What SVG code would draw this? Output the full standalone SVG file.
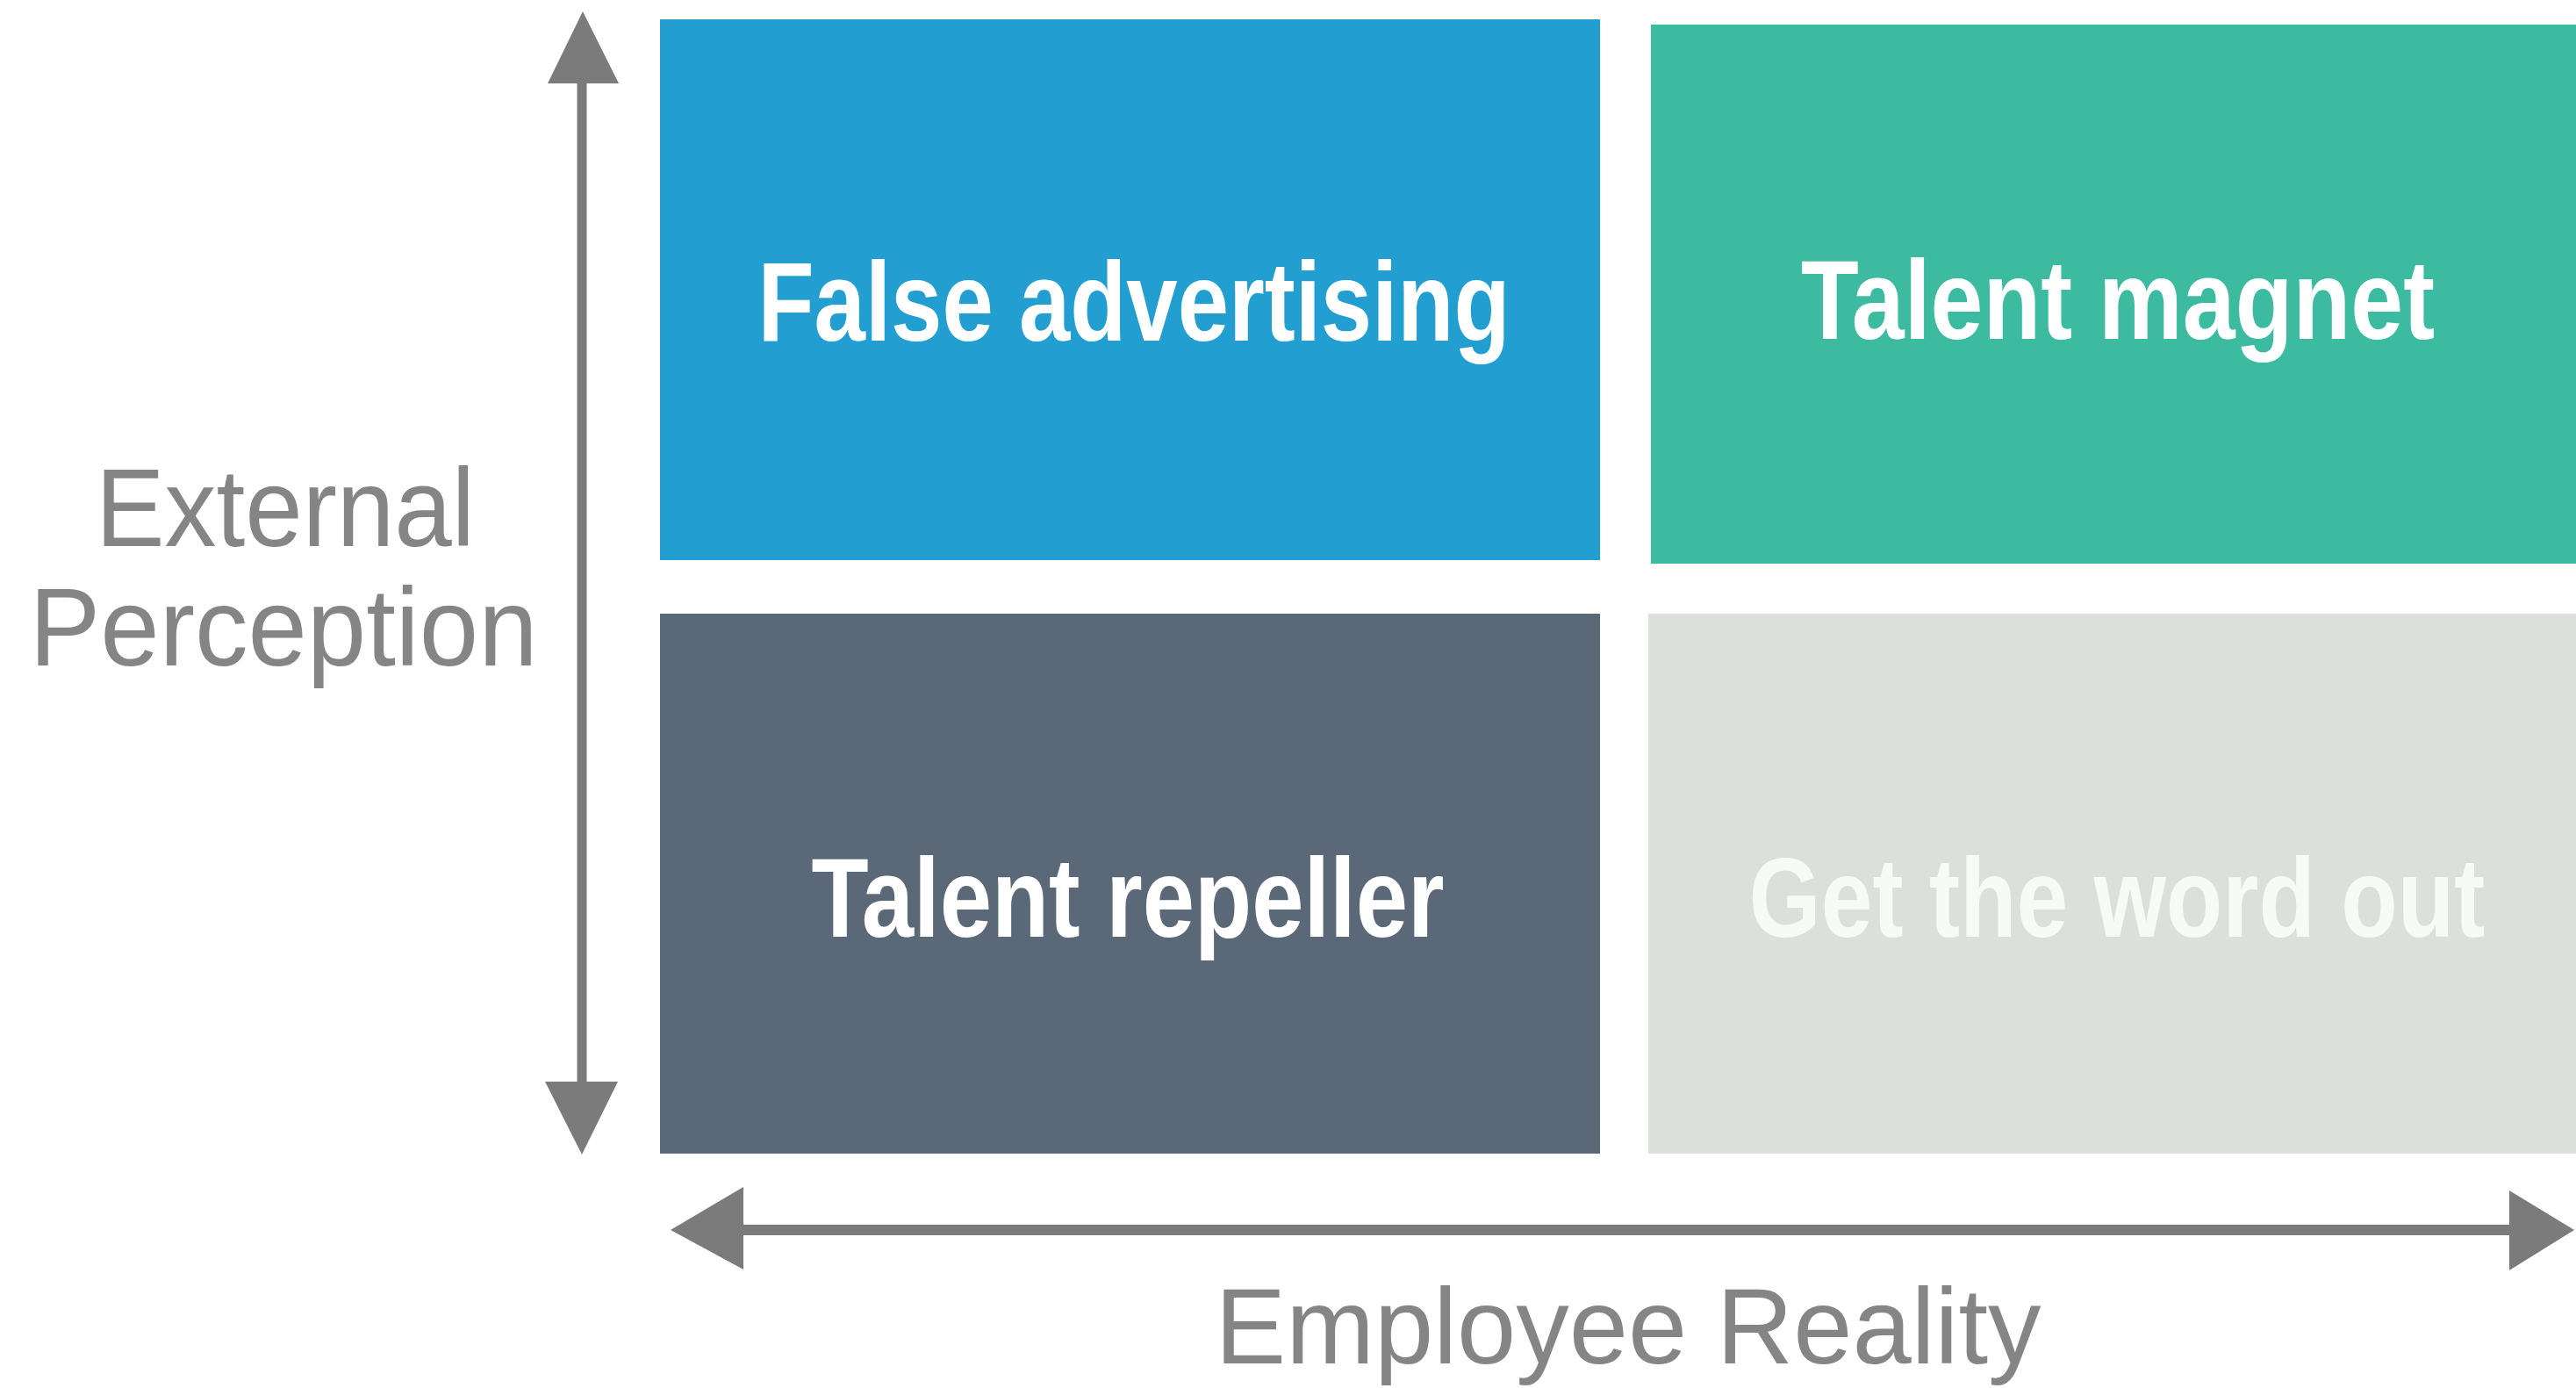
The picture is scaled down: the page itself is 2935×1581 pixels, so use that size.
<svg xmlns="http://www.w3.org/2000/svg" width="2935" height="1581" viewBox="0 0 2935 1581">
  <style>
    .quad-label { font-family: "Liberation Sans", Arial, sans-serif; font-weight: bold; font-size: 128px; text-anchor: middle; }
    .axis-label { font-family: "Liberation Sans", Arial, sans-serif; font-weight: normal; font-size: 126px; fill: #858585; text-anchor: middle; }
    .axis-line { stroke: #7b7b7b; stroke-width: 11; fill: none; }
    .axis-head { fill: #7b7b7b; }
  </style>
  <rect x="0" y="0" width="2935" height="1581" fill="#ffffff"/>

  <!-- quadrants -->
  <g id="false-advertising">
    <rect x="752" y="22" width="1071" height="616" fill="#229fd0"/>
    <text class="quad-label" x="1292" y="388" fill="#ffffff" textLength="857" lengthAdjust="spacingAndGlyphs">False advertising</text>
  </g>
  <g id="talent-magnet">
    <rect x="1881" y="28" width="1054" height="614" fill="#3dbba0"/>
    <text class="quad-label" x="2413" y="386" fill="#ffffff" textLength="722" lengthAdjust="spacingAndGlyphs">Talent magnet</text>
  </g>
  <g id="talent-repeller">
    <rect x="752" y="699" width="1071" height="615" fill="#5b6877"/>
    <text class="quad-label" x="1285" y="1067" fill="#ffffff" textLength="721" lengthAdjust="spacingAndGlyphs">Talent repeller</text>
  </g>
  <g id="get-the-word-out">
    <rect x="1878" y="699" width="1057" height="615" fill="#dbe1da"/>
    <text class="quad-label" x="2412" y="1067" fill="#f7faf5" textLength="839" lengthAdjust="spacingAndGlyphs">Get the word out</text>
  </g>

  <!-- axis titles -->
  <g id="external-perception">
    <text class="axis-label" x="325" y="622" textLength="432" lengthAdjust="spacingAndGlyphs">External</text>
    <text class="axis-label" x="323" y="758" textLength="579" lengthAdjust="spacingAndGlyphs">Perception</text>
  </g>
  <g id="employee-reality">
    <text class="axis-label" x="1855" y="1553" style="font-size:122px" textLength="941" lengthAdjust="spacingAndGlyphs">Employee Reality</text>
  </g>

  <!-- double-headed axes -->
  <g id="connectors">
    <g id="vertical-axis">
      <line class="axis-line" x1="663" y1="90" x2="663" y2="1236"/>
      <polygon class="axis-head" points="664,13 624,95 705,95"/>
      <polygon class="axis-head" points="621,1232 704,1232 663,1315"/>
    </g>
    <g id="horizontal-axis">
      <line class="axis-line" x1="842" y1="1401" x2="2864" y2="1401" style="stroke-width:12"/>
      <polygon class="axis-head" points="764,1401 847,1352 847,1446"/>
      <polygon class="axis-head" points="2933,1401 2859,1356 2859,1447"/>
    </g>
  </g>
</svg>
